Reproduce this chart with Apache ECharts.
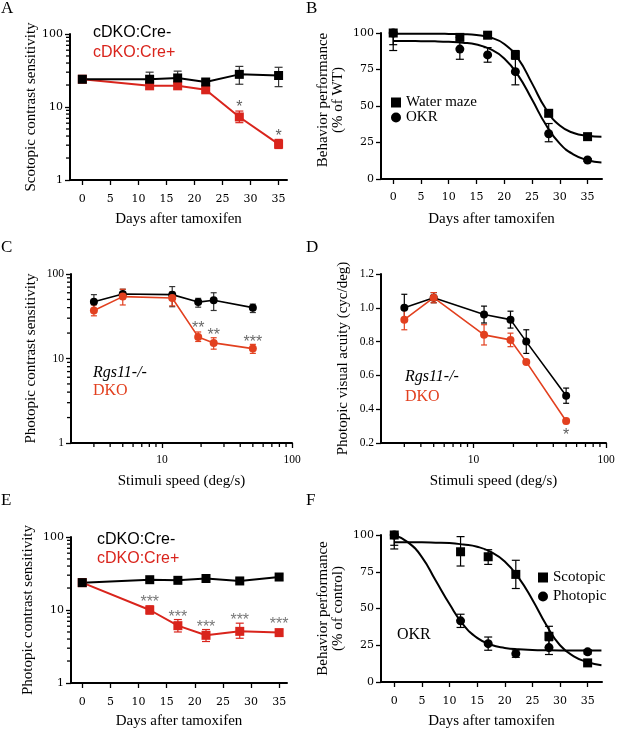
<!DOCTYPE html>
<html><head><meta charset="utf-8">
<script src="https://cdn.jsdelivr.net/npm/echarts@6/dist/echarts.min.js"></script>
<style>html,body{margin:0;padding:0;background:#fff}#c{width:617px;height:730px}</style>
</head><body><div id="c"></div>
<script>
// ---------- tick values ----------
const dayTicks = [0, 5, 10, 15, 20, 25, 30, 35];
const logYMajor = [1, 10, 100];
const logYMinor = [2, 3, 4, 5, 6, 7, 8, 9, 20, 30, 40, 50, 60, 70, 80, 90];
const logXMajor = [10, 100];
const logXMinor = [3, 4, 5, 6, 7, 8, 9, 20, 30, 40, 50, 60, 70, 80, 90];

// ---------- Panel A: scotopic contrast sensitivity ----------
const daysA = [0, 12, 17, 22, 28, 35];
const aCreNeg = [24, 24, 25, 22, 28, 27];
const aCreNegHi = [24, 30, 31, 24, 36, 35];
const aCreNegLo = [24, 20, 21, 20, 20.5, 19];
const aCrePos = [24, 19.5, 19.5, 17.2, 7.3, 3.1];
const aCrePosHi = [24, 21.5, 21.5, 18.5, 8.8, 3.6];
const aCrePosLo = [24, 17.7, 17.7, 16, 6.1, 2.7];
const aStarX = [28, 35];
const aStarY = [11.1, 4.5];
const aStarText = ['*', '*'];

// ---------- Panel B: behavior performance (% of WT) ----------
const daysB = [0, 12, 17, 22, 28, 35];
const waterMaze = [100, 97, 98.5, 85, 45, 29];
const waterMazeHi = [100, 97, 100, 88, 47, 30];
const waterMazeLo = [92, 97, 97, 82, 43, 28];
const okr = [100, 89, 85, 73.5, 31, 13];
const okrHi = [100, 97, 90, 83, 38, 14];
const okrLo = [88, 82, 80, 64.5, 25.5, 12];
const fitX = [0, 2.5, 5, 7.5, 10, 12.5, 15, 17.5, 20, 22.5, 25, 27.5, 30, 32.5, 35, 37.5];
const waterMazeFit = [99.5, 99.5, 99.5, 99.5, 99.4, 99.2, 98.6, 96.9, 92.5, 82.4, 65.5, 47.9, 36.6, 31.5, 29.6, 28.9];
const okrFit = [94.5, 94.5, 94.4, 94.3, 94, 93.4, 92.1, 88.9, 82.6, 71, 54.4, 37.1, 24.2, 16.7, 12.9, 11.3];

// ---------- Panel C: photopic contrast sensitivity vs speed ----------
const speed = [3, 5, 12, 19, 25, 50];
const cRgs = [47, 58, 57, 46.5, 49, 40];
const cRgsHi = [57, 66, 71, 51.5, 60, 44];
const cRgsLo = [38, 51, 41, 40.5, 37, 35];
const cDko = [37, 54, 52, 18, 15.3, 13.1];
const cDkoHi = [43, 66, 61, 20.6, 17.6, 14.7];
const cDkoLo = [32, 43, 42, 15.9, 12.9, 11.5];
const cStarX = [19, 25, 50];
const cStarY = [25, 20.8, 17.2];
const cStarText = ['**', '**', '***'];

// ---------- Panel D: photopic visual acuity vs speed ----------
const dRgs = [1.00, 1.06, 0.96, 0.93, 0.80, 0.48];
const dRgsHi = [1.08, 1.09, 1.01, 0.98, 0.87, 0.525];
const dRgsLo = [0.92, 1.03, 0.91, 0.88, 0.73, 0.435];
const dDko = [0.93, 1.06, 0.84, 0.81, 0.68, 0.33];
const dDkoHi = [0.99, 1.09, 0.90, 0.85, 0.69, 0.345];
const dDkoLo = [0.87, 1.03, 0.78, 0.77, 0.67, 0.315];
const dStarX = [50];
const dStarY = [0.27];
const dStarText = ['*'];

// ---------- Panel E: photopic contrast sensitivity vs days ----------
const daysE = [0, 12, 17, 22, 28, 35];
const eCreNeg = [23.7, 26, 25.5, 27, 25, 28.3];
const eCreNegHi = [24.5, 27, 26.5, 28.5, 27, 31];
const eCreNegLo = [23, 25, 24.5, 25.5, 23, 25.5];
const eCrePos = [23.7, 10, 6.1, 4.5, 5.1, 4.9];
const eCrePosHi = [24.5, 11.4, 7.4, 5.4, 6.6, 5.4];
const eCrePosLo = [23, 8.8, 5.0, 3.7, 4.1, 4.4];
const eStarX = [12, 17, 22, 28, 35];
const eStarY = [14.3, 8.9, 6.5, 8.0, 7.1];
const eStarText = ['***', '***', '***', '***', '***'];

// ---------- Panel F: OKR behavior performance (% of control) ----------
const daysF = [0, 12, 17, 22, 28, 35];
const scotopic = [100, 88.6, 85.2, 73.2, 31.1, 13];
const scotopicHi = [100, 98.9, 90, 82.8, 37.9, 14.5];
const scotopicLo = [93, 78.9, 80, 63.6, 24.3, 11.5];
const photopic = [100, 41.6, 26.1, 19.3, 23.4, 20.5];
const photopicHi = [100, 46.1, 30.6, 21.8, 28.1, 22];
const photopicLo = [90.5, 37.1, 21.6, 16.8, 18.7, 19];
const photopicFit = [100, 95, 85, 69, 53, 39, 30, 25.3, 23.2, 22.2, 21.8, 21.6, 21.5, 21.5, 21.5, 21.5];
const scotopicFit = [95, 95, 95, 94.8, 94.5, 93.5, 92, 88.5, 82, 71, 56, 39, 25, 17.5, 13.5, 11.4];

// ---------- axis ranges ----------
const dayMinA = -2.2, dayMaxA = 36.5;
const dayMinB = -2.2, dayMaxB = 37.6;
const dayMinE = -2.0, dayMaxE = 36.4;
const dayMinF = -2.4, dayMaxF = 37.6;
const speedMin = 2, speedMax = 100;
const csMin = 1, csMax = 100;
const acuityMin = 0.2, acuityMax = 1.2;

// ---------- styles ----------
const SERIF = '"Liberation Serif", "Times New Roman", serif';
const WIDE = '"DejaVu Serif", serif';
const SANS = '"Liberation Sans", Arial, sans-serif';
const RED = '#d9241c';
const RED2 = '#e2401f';
const NAME = { fontFamily: SERIF, fontSize: 15, color: '#000' };
const AXLINE = { show: true, onZero: false, lineStyle: { color: '#000', width: 2 } };
const tick = (len, vals) => ({ show: true, length: len, inside: false, lineStyle: { color: '#000', width: 1.3 }, customValues: vals });
const wideLbl = (m, vals) => ({ customValues: vals, fontFamily: WIDE, fontSize: 11, color: '#000', margin: m });
const serifLbl = (m, vals, fmt) => ({ customValues: vals, fontFamily: SERIF, fontSize: 11.5, color: '#000', margin: m, formatter: fmt });

const grids = [
  { left: 70, top: 34, width: 217, height: 146 },
  { left: 381, top: 33, width: 221, height: 146 },
  { left: 71, top: 274, width: 221, height: 169 },
  { left: 381, top: 274, width: 225, height: 169 },
  { left: 71, top: 537, width: 216, height: 146 },
  { left: 381, top: 535, width: 221, height: 147 }
].map(g => Object.assign({ outerBoundsMode: 'none', containLabel: false }, g));

const xAxes = [], yAxes = [], series = [];
const addX = c => (xAxes.push(Object.assign({ splitLine: { show: false }, position: 'bottom' }, c)), xAxes.length - 1);
const addY = c => (yAxes.push(Object.assign({ splitLine: { show: false }, position: 'left' }, c)), yAxes.length - 1);

function errSeries(xi, yi, xs, lo, hi, color, cap) {
  return {
    type: 'custom', xAxisIndex: xi, yAxisIndex: yi, silent: true, z: 2,
    data: xs.map((x, i) => [x, lo[i], hi[i]]),
    encode: { x: 0, y: [1, 2] },
    renderItem: (params, api) => {
      const x = api.value(0);
      const a = api.coord([x, api.value(1)]);
      const b = api.coord([x, api.value(2)]);
      const st = { stroke: color, lineWidth: 1.2 };
      return {
        type: 'group', children: [
          { type: 'line', shape: { x1: a[0], y1: a[1], x2: b[0], y2: b[1] }, style: st },
          { type: 'line', shape: { x1: a[0] - cap, y1: a[1], x2: a[0] + cap, y2: a[1] }, style: st },
          { type: 'line', shape: { x1: b[0] - cap, y1: b[1], x2: b[0] + cap, y2: b[1] }, style: st }
        ]
      };
    }
  };
}
// minor ticks on log axes: each tick placed at (axis min of the other axis, value) through the scales
function minorTicks(xi, yi, vals, dim, otherMin) {
  return {
    type: 'custom', xAxisIndex: xi, yAxisIndex: yi, silent: true, z: 6, clip: false,
    data: vals.map(v => dim === 'y' ? [otherMin, v] : [v, otherMin]),
    encode: { x: 0, y: 1 },
    renderItem: (params, api) => {
      const p = api.coord([api.value(0), api.value(1)]);
      const shape = dim === 'y'
        ? { x1: p[0] - 4, y1: p[1], x2: p[0], y2: p[1] }
        : { x1: p[0], y1: p[1], x2: p[0], y2: p[1] + 4 };
      return { type: 'line', shape, style: { stroke: '#000', lineWidth: 1.3 } };
    }
  };
}
function lineSeries(name, xi, yi, xs, ys, color, symbol, size, width) {
  return {
    type: 'line', name, xAxisIndex: xi, yAxisIndex: yi, z: 3,
    data: xs.map((x, i) => [x, ys[i]]),
    symbol, symbolSize: size, showSymbol: true,
    lineStyle: { color, width }, itemStyle: { color, opacity: 1 }
  };
}
function pointSeries(name, xi, yi, xs, ys, symbol, size) {
  return {
    type: 'scatter', name, xAxisIndex: xi, yAxisIndex: yi, z: 4,
    data: xs.map((x, i) => [x, ys[i]]),
    symbol, symbolSize: size, itemStyle: { color: '#000', opacity: 1 }
  };
}
function curveSeries(xi, yi, xs, ys) {
  return {
    type: 'line', xAxisIndex: xi, yAxisIndex: yi, z: 3, silent: true,
    data: xs.map((x, i) => [x, ys[i]]), smooth: 0.5,
    showSymbol: false, symbol: 'none', lineStyle: { color: '#000', width: 2 }
  };
}
function starSeries(xi, yi, xs, ys, texts, color, size) {
  return {
    type: 'scatter', xAxisIndex: xi, yAxisIndex: yi, z: 5, silent: true,
    data: xs.map((x, i) => [x, ys[i]]), symbolSize: 1,
    itemStyle: { color: 'rgba(0,0,0,0)' },
    label: { show: true, position: 'inside', formatter: p => texts[p.dataIndex], color, fontSize: size, fontFamily: SANS, offset: [0, 4] }
  };
}

// ----- Panel A -----
const xA = addX({ type: 'value', gridIndex: 0, min: dayMinA, max: dayMaxA, axisLine: AXLINE, axisTick: tick(5, dayTicks), axisLabel: wideLbl(14, dayTicks),
  name: 'Days after tamoxifen', nameLocation: 'middle', nameGap: 32, nameTextStyle: NAME });
const yA = addY({ type: 'log', logBase: 10, gridIndex: 0, min: csMin, max: csMax, axisLine: AXLINE, axisTick: tick(5, logYMajor), axisLabel: wideLbl(7, logYMajor),
  name: 'Scotopic contrast sensitivity', nameLocation: 'middle', nameGap: 31, nameTextStyle: NAME });
series.push(minorTicks(xA, yA, logYMinor, 'y', dayMinA));
series.push(errSeries(xA, yA, daysA, aCrePosLo, aCrePosHi, RED, 4));
series.push(lineSeries('cDKO:Cre+ (A)', xA, yA, daysA, aCrePos, RED, 'rect', 9, 2));
series.push(errSeries(xA, yA, daysA, aCreNegLo, aCreNegHi, '#333', 4));
series.push(lineSeries('cDKO:Cre- (A)', xA, yA, daysA, aCreNeg, '#000', 'rect', 9, 2));
series.push(starSeries(xA, yA, aStarX, aStarY, aStarText, '#333', 16));

// ----- Panel B -----
const xB = addX({ type: 'value', gridIndex: 1, min: dayMinB, max: dayMaxB, axisLine: AXLINE, axisTick: tick(5, dayTicks), axisLabel: wideLbl(13, dayTicks),
  name: 'Days after tamoxifen', nameLocation: 'middle', nameGap: 33, nameTextStyle: NAME });
const yB = addY({ type: 'value', gridIndex: 1, min: 0, max: 100, interval: 25, axisLine: AXLINE, axisTick: tick(5), axisLabel: { fontFamily: WIDE, fontSize: 11, color: '#000', margin: 7 },
  name: 'Behavior performance\n(% of WT)', nameLocation: 'middle', nameGap: 35, nameTextStyle: Object.assign({ lineHeight: 15, padding: [0, 0, 0, 12] }, NAME) });
series.push(curveSeries(xB, yB, fitX, okrFit));
series.push(curveSeries(xB, yB, fitX, waterMazeFit));
series.push(errSeries(xB, yB, daysB, okrLo, okrHi, '#000', 4));
series.push(pointSeries('OKR', xB, yB, daysB, okr, 'circle', 9));
series.push(errSeries(xB, yB, daysB, waterMazeLo, waterMazeHi, '#000', 4));
series.push(pointSeries('Water maze', xB, yB, daysB, waterMaze, 'rect', 9));

// ----- Panel C -----
const xC = addX({ type: 'log', logBase: 10, gridIndex: 2, min: speedMin, max: speedMax, axisLine: AXLINE, axisTick: tick(5, logXMajor), axisLabel: serifLbl(11, logXMajor),
  name: 'Stimuli speed (deg/s)', nameLocation: 'middle', nameGap: 31, nameTextStyle: NAME });
const yC = addY({ type: 'log', logBase: 10, gridIndex: 2, min: csMin, max: csMax, axisLine: AXLINE, axisTick: tick(5, logYMajor), axisLabel: serifLbl(7, logYMajor),
  name: 'Photopic contrast sensitivity', nameLocation: 'middle', nameGap: 32, nameTextStyle: NAME });
series.push(minorTicks(xC, yC, logYMinor, 'y', speedMin));
series.push(minorTicks(xC, yC, logXMinor, 'x', csMin));
series.push(errSeries(xC, yC, speed, cRgsLo, cRgsHi, '#333', 3));
series.push(lineSeries('Rgs11-/- (C)', xC, yC, speed, cRgs, '#000', 'circle', 8, 1.6));
series.push(errSeries(xC, yC, speed, cDkoLo, cDkoHi, RED2, 3));
series.push(lineSeries('DKO (C)', xC, yC, speed, cDko, RED2, 'circle', 8, 1.6));
series.push(starSeries(xC, yC, cStarX, cStarY, cStarText, '#444', 16));

// ----- Panel D -----
const xD = addX({ type: 'log', logBase: 10, gridIndex: 3, min: speedMin, max: speedMax, axisLine: AXLINE, axisTick: tick(5, logXMajor), axisLabel: serifLbl(11, logXMajor),
  name: 'Stimuli speed (deg/s)', nameLocation: 'middle', nameGap: 31, nameTextStyle: NAME });
const yD = addY({ type: 'value', gridIndex: 3, min: acuityMin, max: acuityMax, interval: 0.2, axisLine: AXLINE, axisTick: tick(5), axisLabel: serifLbl(7, undefined, v => v.toFixed(1)),
  name: 'Photopic visual acuity (cyc/deg)', nameLocation: 'middle', nameGap: 30, nameTextStyle: NAME });
series.push(minorTicks(xD, yD, logXMinor, 'x', acuityMin));
series.push(errSeries(xD, yD, speed, dRgsLo, dRgsHi, '#000', 3));
series.push(lineSeries('Rgs11-/- (D)', xD, yD, speed, dRgs, '#000', 'circle', 8, 1.6));
series.push(errSeries(xD, yD, speed, dDkoLo, dDkoHi, RED2, 3));
series.push(lineSeries('DKO (D)', xD, yD, speed, dDko, RED2, 'circle', 8, 1.6));
series.push(starSeries(xD, yD, dStarX, dStarY, dStarText, '#333', 16));

// ----- Panel E -----
const xE = addX({ type: 'value', gridIndex: 4, min: dayMinE, max: dayMaxE, axisLine: AXLINE, axisTick: tick(5, dayTicks), axisLabel: wideLbl(14, dayTicks),
  name: 'Days after tamoxifen', nameLocation: 'middle', nameGap: 31, nameTextStyle: NAME });
const yE = addY({ type: 'log', logBase: 10, gridIndex: 4, min: csMin, max: csMax, axisLine: AXLINE, axisTick: tick(5, logYMajor), axisLabel: wideLbl(7, logYMajor),
  name: 'Photopic contrast sensitivity', nameLocation: 'middle', nameGap: 35, nameTextStyle: NAME });
series.push(minorTicks(xE, yE, logYMinor, 'y', dayMinE));
series.push(errSeries(xE, yE, daysE, eCrePosLo, eCrePosHi, RED, 4));
series.push(lineSeries('cDKO:Cre+ (E)', xE, yE, daysE, eCrePos, RED, 'rect', 9, 2));
series.push(errSeries(xE, yE, daysE, eCreNegLo, eCreNegHi, '#333', 4));
series.push(lineSeries('cDKO:Cre- (E)', xE, yE, daysE, eCreNeg, '#000', 'rect', 9, 2));
series.push(starSeries(xE, yE, eStarX, eStarY, eStarText, '#555', 16));

// ----- Panel F -----
const xF = addX({ type: 'value', gridIndex: 5, min: dayMinF, max: dayMaxF, axisLine: AXLINE, axisTick: tick(5, dayTicks), axisLabel: wideLbl(14, dayTicks),
  name: 'Days after tamoxifen', nameLocation: 'middle', nameGap: 32, nameTextStyle: NAME });
const yF = addY({ type: 'value', gridIndex: 5, min: 0, max: 100, interval: 25, axisLine: AXLINE, axisTick: tick(5), axisLabel: { fontFamily: WIDE, fontSize: 11, color: '#000', margin: 7 },
  name: 'Behavior performance\n(% of control)', nameLocation: 'middle', nameGap: 35, nameTextStyle: Object.assign({ lineHeight: 15 }, NAME) });
series.push(curveSeries(xF, yF, fitX, photopicFit));
series.push(curveSeries(xF, yF, fitX, scotopicFit));
series.push(errSeries(xF, yF, daysF, photopicLo, photopicHi, '#000', 4));
series.push(pointSeries('Photopic', xF, yF, daysF, photopic, 'circle', 9));
series.push(errSeries(xF, yF, daysF, scotopicLo, scotopicHi, '#000', 4));
series.push(pointSeries('Scotopic', xF, yF, daysF, scotopic, 'rect', 9));

// ---------- text ----------
const txt = (text, x, y, font, fill) => ({ type: 'text', x, y, silent: true, style: { text, font, fill, align: 'left', verticalAlign: 'middle' } });
const LET = '17px "Liberation Serif", serif';
const graphic = [
  txt('A', 1, 9, LET, '#000'), txt('B', 306, 9, LET, '#000'),
  txt('C', 1, 248, LET, '#000'), txt('D', 306, 248, LET, '#000'),
  txt('E', 1, 501, LET, '#000'), txt('F', 306, 501, LET, '#000'),
  txt('cDKO:Cre-', 93, 33, '16px "Liberation Sans", sans-serif', '#000'),
  txt('cDKO:Cre+', 93, 53, '16px "Liberation Sans", sans-serif', RED),
  txt('Rgs11-/-', 93, 373, 'italic 16px "Liberation Serif", serif', '#000'),
  txt('DKO', 93, 391, '16px "Liberation Serif", serif', RED2),
  txt('Rgs11-/-', 405, 377, 'italic 16px "Liberation Serif", serif', '#000'),
  txt('DKO', 405, 397, '16px "Liberation Serif", serif', RED2),
  txt('cDKO:Cre-', 97, 540, '16px "Liberation Sans", sans-serif', '#000'),
  txt('cDKO:Cre+', 97, 559, '16px "Liberation Sans", sans-serif', RED),
  txt('OKR', 397, 635, '16px "Liberation Serif", serif', '#000')
];

const legendText = { fontFamily: SERIF, fontSize: 15, color: '#000', lineHeight: 14 };
const legend = [
  { left: 391, top: 95, orient: 'vertical', itemWidth: 10, itemHeight: 10, itemGap: 0, padding: 0, selectedMode: false, data: ['Water maze', 'OKR'], textStyle: legendText },
  { left: 538, top: 570, orient: 'vertical', itemWidth: 10, itemHeight: 10, itemGap: 4, padding: 0, selectedMode: false, data: ['Scotopic', 'Photopic'], textStyle: legendText }
];

const chart = echarts.init(document.getElementById('c'), null, { renderer: 'canvas' });
chart.setOption({
  animation: false,
  backgroundColor: '#fff',
  grid: grids, xAxis: xAxes, yAxis: yAxes, series, legend, graphic
});
</script></body></html>
